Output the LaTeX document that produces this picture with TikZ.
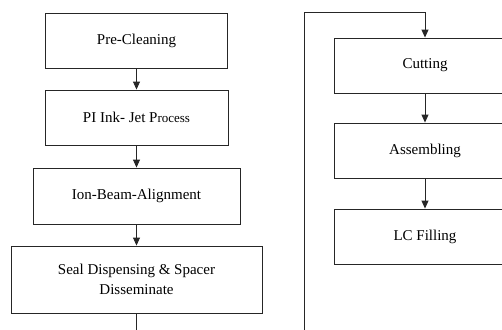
\documentclass[tikz,border=0pt]{standalone}
\usepackage{fontspec}
\setmainfont{Liberation Serif}
\usetikzlibrary{arrows.meta}
\begin{document}
\begin{tikzpicture}[x=1bp,y=-1bp,
  every node/.style={font=\fontsize{15bp}{20bp}\selectfont},
  procbox/.style={draw=black!85, line width=0.9bp, rectangle, inner sep=0pt, align=center},
  conn/.style={draw=black!85, line width=0.9bp},
  arr/.style={conn, -{Triangle[width=7bp,length=8bp]}}]
\useasboundingbox (0,0) rectangle (502,329);
\clip (0,0) rectangle (502,329);
\node[procbox, minimum width=182bp, minimum height=55bp] (b1) at (136.5,40.5) {Pre-Cleaning};
\node[procbox, minimum width=183bp, minimum height=55bp] (b2) at (136.5,117.5) {PI Ink- Jet P{\fontsize{13bp}{16bp}\selectfont rocess}};
\node[procbox, minimum width=207bp, minimum height=56bp] (b3) at (136.5,196) {Ion-Beam-Alignment};
\node[procbox, minimum width=251bp, minimum height=67bp] (b4) at (136.5,279.5) {Seal Dispensing \& Spacer\\Disseminate};
\node[procbox, minimum width=182bp, minimum height=55bp] (c1) at (425,65.5) {Cutting};
\node[procbox, minimum width=182bp, minimum height=55bp] (c2) at (425,150.5) {Assembling};
\node[procbox, minimum width=182bp, minimum height=55bp] (c3) at (425,236.5) {LC Filling};
\coordinate (e1) at (136.5,335);
\coordinate (s1) at (304,335);
\draw[arr] (b1) -- (b2);
\draw[arr] (b2) -- (b3);
\draw[arr] (b3) -- (b4);
\draw[conn] (b4) -- (e1);
\draw[arr] (s1) -- (304,12.5) -- (425,12.5) -- (c1);
\draw[arr] (c1) -- (c2);
\draw[arr] (c2) -- (c3);
\end{tikzpicture}
\end{document}
